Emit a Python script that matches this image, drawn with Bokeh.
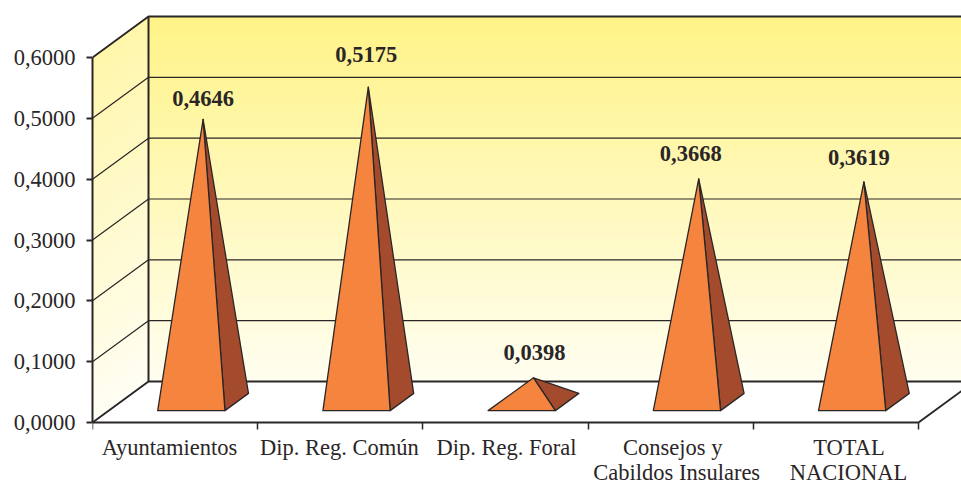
from bokeh.embed import file_html
from bokeh.resources import INLINE
from bokeh.plotting import figure
from bokeh.models import FixedTicker, Range1d, ColumnDataSource
from bokeh.core.properties import value as V

# ---- data ----
categories = ["Ayuntamientos", "Dip. Reg. Común", "Dip. Reg. Foral", "Consejos y", "TOTAL"]
categories_line2 = ["", "", "", "Cabildos Insulares", "NACIONAL"]
values = [0.4646, 0.5175, 0.0398, 0.3668, 0.3619]
value_labels = ["0,4646", "0,5175", "0,0398", "0,3668", "0,3619"]
y_ticks = [0.0, 0.1, 0.2, 0.3, 0.4, 0.5, 0.6]
y_tick_labels = ["0,0000", "0,1000", "0,2000", "0,3000", "0,4000", "0,5000", "0,6000"]

# ---- layout / style ----
PX_CAT = 165.2            # px per category
PX_VAL = 608.3            # px per unit of value
FRAME_W, FRAME_H = 869, 485
BELOW = 63                # px of frame under the zero line
DEPTH_X = 56 / PX_CAT     # oblique shift of the back plane
DEPTH_Y = 41 / PX_VAL
YMAX = 0.6
N = len(categories)
HALF = 0.2035             # half base width, in categories
D_FRONT, D_BACK = 0.29, 0.71
label_dx = [0, -2, 1, -8, -5]
label_dy = [21, 33, 25, 25, 24]
cat_shift = [-5.6, -1, 1, 2, 13]
cat2_shift = [0, 0, 0, 6, 12.5]
INK = "#2a2627"
FONT = "Liberation Serif"
FS = "22.5px"
TOP = (255, 243, 135)
BOT = (255, 254, 240)
LTOP = (255, 246, 170)
LBOT = (255, 254, 243)


def hexmix(a, b, t):
    return "#%02x%02x%02x" % tuple(round(a[i] + (b[i] - a[i]) * t) for i in range(3))


def proj(x, depth, v):
    return x + depth * DEPTH_X, v + depth * DEPTH_Y


p = figure(frame_width=FRAME_W, frame_height=FRAME_H, min_border_left=92, min_border_right=0,
           min_border_top=0, min_border_bottom=0, output_backend="svg", toolbar_location=None,
           x_range=Range1d(0, FRAME_W / PX_CAT),
           y_range=Range1d(-BELOW / PX_VAL, (FRAME_H - BELOW) / PX_VAL),
           background_fill_color="white", border_fill_color="white", outline_line_color=None)
p.grid.visible = False

# gradient walls
bands = 80
xmax = N + 1
for i in range(bands):
    v0 = YMAX * i / bands
    v1 = YMAX * (i + 1) / bands
    c = hexmix(BOT, TOP, (i + 0.5) / bands)
    lc = hexmix(LBOT, LTOP, (i + 0.5) / bands)
    pts = [proj(0, 1, v0), proj(xmax, 1, v0), proj(xmax, 1, v1), proj(0, 1, v1)]
    p.patch([a for a, _ in pts], [b for _, b in pts], fill_color=c, line_color=c, line_width=1)
    pts = [proj(0, 0, v0), proj(0, 1, v0), proj(0, 1, v1), proj(0, 0, v1)]
    p.patch([a for a, _ in pts], [b for _, b in pts], fill_color=lc, line_color=lc, line_width=1)

# gridlines on the walls
for t in y_ticks[1:-1]:
    a, b, c = proj(0, 0, t), proj(0, 1, t), proj(xmax, 1, t)
    p.line([a[0], b[0], c[0]], [a[1], b[1], c[1]], line_color=INK, line_width=1.2)

# wall and floor frame
a, b, c = proj(0, 0, YMAX), proj(0, 1, YMAX), proj(xmax, 1, YMAX)
p.line([a[0], b[0], c[0]], [a[1], b[1], c[1]], line_color=INK, line_width=2)
a, b = proj(0, 1, 0), proj(0, 1, YMAX)
p.line([a[0], b[0]], [a[1], b[1]], line_color=INK, line_width=2)
a, b, c = proj(0, 0, 0), proj(0, 1, 0), proj(xmax, 1, 0)
p.line([a[0], b[0], c[0]], [a[1], b[1], c[1]], line_color=INK, line_width=2)
a, b = proj(N, 0, 0), proj(N, 1, 0)
p.line([a[0], b[0]], [a[1], b[1]], line_color=INK, line_width=2)

# pyramids
lx, ly = [], []
for i, v in enumerate(values):
    cx = i + 0.5
    fl = proj(cx - HALF, D_FRONT, 0)
    fr = proj(cx + HALF, D_FRONT, 0)
    br = proj(cx + HALF, D_BACK, 0)
    ap = proj(cx, 0.5, v)
    p.patch([br[0], fr[0], ap[0]], [br[1], fr[1], ap[1]], fill_color="#a34b2c",
            line_color=INK, line_width=1.3, line_join="round")
    p.patch([fl[0], fr[0], ap[0]], [fl[1], fr[1], ap[1]], fill_color="#f4843e",
            line_color=INK, line_width=1.3, line_join="round")
    lx.append(ap[0])
    ly.append(ap[1])

src = ColumnDataSource(dict(x=lx, y=ly, t=value_labels, dx=label_dx, dy=[-d for d in label_dy]))
p.text("x", "y", text="t", x_offset="dx", y_offset="dy", source=src, text_align="center",
       text_baseline="middle", text_font=V(FONT), text_font_style="bold",
       text_font_size=FS, text_color=INK)

# second lines of the category labels
idx = [i for i, t in enumerate(categories_line2) if t]
src2 = ColumnDataSource(dict(x=[i + 0.5 + cat2_shift[i] / PX_CAT for i in idx], y=[0.0] * len(idx),
                             t=[categories_line2[i] for i in idx]))
p.text("x", "y", text="t", y_offset=50, source=src2, text_align="center", text_baseline="middle",
       text_font=V(FONT), text_font_size=FS, text_color=INK)

# axes
ya = p.yaxis[0]
ya.ticker = FixedTicker(ticks=y_ticks)
ya.major_label_overrides = dict(zip(y_ticks, y_tick_labels))
ya.bounds = (0, YMAX)
ya.axis_line_color = INK
ya.axis_line_width = 2
ya.major_tick_line_color = INK
ya.major_tick_line_width = 2
ya.major_tick_out = 6
ya.major_tick_in = 0
ya.minor_tick_line_color = None
ya.major_label_text_font = FONT
ya.major_label_text_font_size = FS
ya.major_label_text_color = INK
ya.major_label_standoff = 11

xa = p.xaxis[0]
xa.fixed_location = 0
cat_pos = [i + 0.5 + cat_shift[i] / PX_CAT for i in range(N)]
xa.ticker = FixedTicker(ticks=cat_pos, minor_ticks=list(range(N + 1)))
xa.major_label_overrides = dict(zip(cat_pos, categories))
xa.bounds = (0, N)
xa.axis_line_color = INK
xa.axis_line_width = 2
xa.major_tick_line_color = None
xa.major_tick_out = 0
xa.minor_tick_line_color = INK
xa.minor_tick_line_width = 1.5
xa.minor_tick_out = 7
xa.minor_tick_in = 0
xa.major_label_text_font = FONT
xa.major_label_text_font_size = FS
xa.major_label_text_color = INK
xa.major_label_standoff = 5

open("out.html", "w").write(file_html(p, INLINE))
